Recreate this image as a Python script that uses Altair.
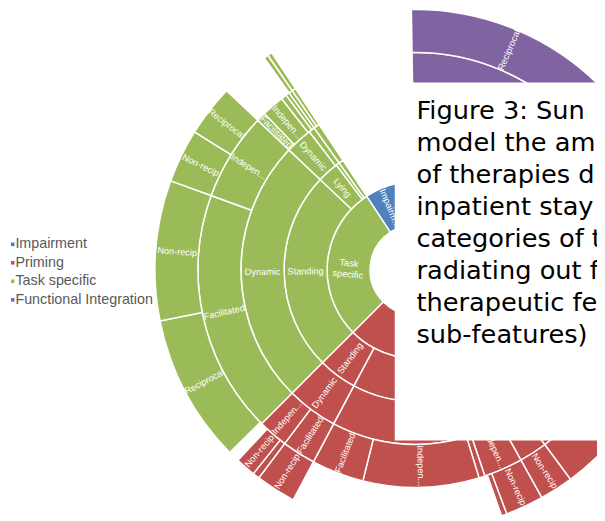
import math
import altair as alt
import pandas as pd

# ---------------- data ----------------
categories = ["Impairment", "Priming", "Task specific", "Functional Integration"]
colors = ["#4F81BD", "#C0504D", "#9BBB59", "#8064A2"]

# Each sector: start angle (deg, clockwise from 12 o'clock) and, per ring,
# ordered (label, angular extent) pairs. label None = empty (nothing drawn),
# "" = unlabelled slice.
green_start = 225.0
green_rings = [
    [("Task\nspecific", 101.5)],
    [("Standing", 88.5), ("Lying", 9.5), ("", 1.5), ("", 2.0)],
    [("Dynamic", 88.5), ("Dynamic", 9.0), ("", 2.0), ("", 2.0)],
    [("Facilitated", 65.0), ("Indepen...", 23.5), ("Facilitated", 2.5), ("Indepen...", 6.0),
     ("", 1.5), ("", 1.0), ("", 1.0), ("", 1.0)],
    [(None, 0.5), ("Reciprocal", 33.2), ("Non-recip", 31.3), ("Non-recip", 12.0),
     ("Reciprocal", 11.5), (None, 11.0), ("", 1.0), ("", 1.0)],
]

red_start = 60.0
red_rings = [
    [("", 165.0)],
    [("", 148.0), ("Standing", 17.0)],
    [("", 83.5), ("", 64.5), ("Dynamic", 17.0)],
    [(None, 50.0), ("", 33.5), ("", 7.5), ("Indepen...", 10.4), ("", 1.6), ("Indepen...", 31.0),
     ("Facilitated", 14.0), ("Facilitated", 9.0), ("Indepen...", 8.0)],
    [(None, 60.0), ("", 23.5), ("Non-recip", 7.5), ("Non-recip", 8.5), ("", 1.2), (None, 47.3),
     ("Non-recip", 9.0), ("", 1.5), ("Non-recip", 4.5), (None, 2.0)],
]

blue_start = 326.5
blue_rings = [
    [("Impairm...", 22.0)],
]

purple_start = -11.5
purple_rings = [
    [("", 71.5)],
    [(None, 10.6), ("", 60.9)],
    [(None, 10.6), ("", 60.9)],
    [(None, 10.6), ("", 60.9)],
    [(None, 10.6), ("Reciprocal", 47.9), ("", 13.0)],
]

caption_lines = [
    "Figure 3: Sun",
    "model the am",
    "of therapies d",
    "inpatient stay",
    "categories of t",
    "radiating out f",
    "therapeutic fe",
    "sub-features)",
]

# ---------------- build table ----------------
rows = []


def add(cat, start, rings):
    for lvl, segs in enumerate(rings):
        a = start
        for lab, span in segs:
            if lab is not None:
                rows.append(dict(cat=cat, level=lvl, level2=lvl + 1, label=lab,
                                 start=a, end=a + span))
            a += span


add("Task specific", green_start, green_rings)
add("Priming", red_start, red_rings)
add("Impairment", blue_start, blue_rings)
add("Functional Integration", purple_start, purple_rings)

df = pd.DataFrame(rows)
df["mid"] = (df["start"] + df["end"]) / 2
df["rmid"] = df["level"] + 0.5


def text_angle(t):
    t = t % 360
    a = t - 90 if t < 180 else t + 90
    return a % 360


df["angle"] = df["mid"].apply(text_angle)
df_lab = df[df["label"] != ""].copy()
legend_df = pd.DataFrame({"cat": categories})

# ---------------- chart ----------------
CX, CY = 413, 262
theta_scale = alt.Scale(domain=[0, 360], range=[0, 2 * math.pi])
r_scale = alt.Scale(type="linear", domain=[0, 5], range=[46, 264], zero=False)
color_scale = alt.Scale(domain=categories, range=colors)

arcs = alt.Chart(df).mark_arc(stroke="white", strokeWidth=1.5).encode(
    x=alt.value(CX),
    y=alt.value(CY),
    theta=alt.Theta("start:Q", scale=theta_scale, stack=False),
    theta2="end:Q",
    radius=alt.Radius("level:Q", scale=r_scale),
    radius2="level2:Q",
    color=alt.Color("cat:N", scale=color_scale, legend=None),
)

labels = alt.Chart(df_lab).mark_text(
    color="white", font="Liberation Sans", fontSize=9.3, lineBreak="\n",
    align="center", baseline="middle",
).encode(
    x=alt.value(CX),
    y=alt.value(CY),
    theta=alt.Theta("mid:Q", scale=theta_scale, stack=False),
    radius=alt.Radius("rmid:Q", scale=r_scale),
    text="label:N",
    angle=alt.Angle("angle:Q", scale=None),
)

# legend drawn as its own layer (left side)
leg_y = alt.Y("cat:N", scale=alt.Scale(type="point", domain=categories,
                                        range=[236, 292.3], padding=0), axis=None)
leg_sym = alt.Chart(legend_df).mark_square(size=13, opacity=1).encode(
    x=alt.value(4.8), y=leg_y, color=alt.Color("cat:N", scale=color_scale, legend=None)
)
leg_txt = alt.Chart(legend_df).mark_text(
    align="left", baseline="middle", font="Liberation Sans", fontSize=14.5, color="#595959"
).encode(x=alt.value(7.5), y=leg_y, text="cat:N")

box = alt.Chart(pd.DataFrame({"k": [0]})).mark_rect(color="white").encode(
    x=alt.value(392), x2=alt.value(640), y=alt.value(72), y2=alt.value(435)
)

caption = alt.Chart(pd.DataFrame({"t": ["\n".join(caption_lines)]})).mark_text(
    align="left", baseline="alphabetic", font="DejaVu Sans", fontSize=26,
    lineHeight=32.4, lineBreak="\n", color="black",
).encode(x=alt.value(414), y=alt.value(109), text="t:N")

chart = alt.layer(arcs, labels, leg_sym, leg_txt, box, caption).properties(
    width=597, height=513, autosize=alt.AutoSizeParams(type="none"), padding=0
).configure_view(stroke=None)

chart.save("out.html", embed_options={"renderer": "svg", "actions": False})
